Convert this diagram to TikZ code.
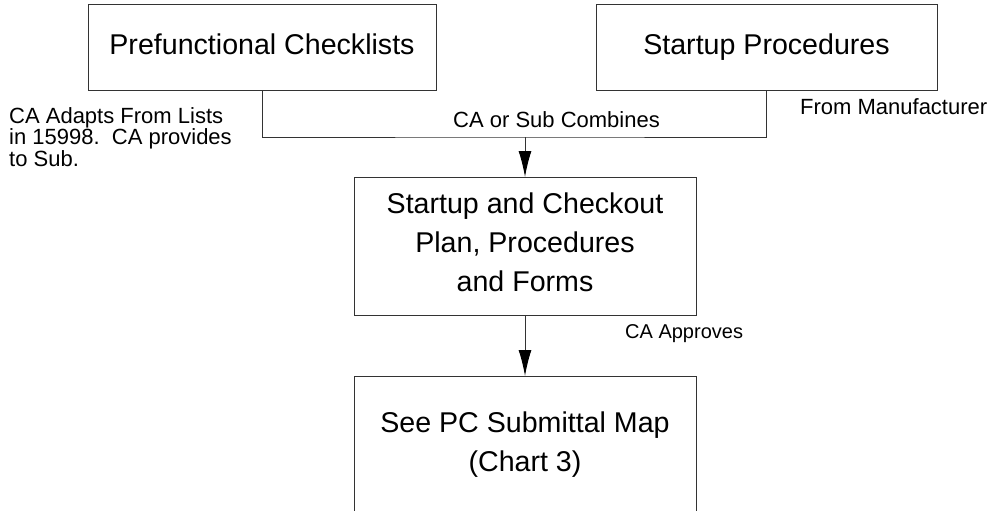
\documentclass[tikz,border=0pt]{standalone}
\usepackage{fontspec}
\setmainfont{Liberation Sans}
\usetikzlibrary{arrows.meta}
\tikzset{box/.style = {draw = black!80, line width = 1pt, inner sep = 0, outer sep = 0, align = center,
    font = \fontsize{28.6}{39}\selectfont, execute at end node = {\rule[-7pt]{0pt}{7pt}}}}
\tikzset{note/.style = {inner sep = 0, font = \fontsize{22}{21.5}\selectfont}}
\tikzset{wire/.style = {draw = black!80, line width = 1pt}}
\tikzset{feed/.style = {wire, -{Latex[length = 26pt, width = 13pt, color = black]}}}

\begin{document}
\begin{tikzpicture}[x = 1pt, y = -1pt]
      \clip (0, 0) rectangle (991, 511);
      \fill [white] (0, 0) rectangle (991, 511);

      \node [box, minimum width = 348pt, minimum height = 86pt] (checklists) at (262, 48) {Prefunctional Checklists};
      \node [box, minimum width = 341pt, minimum height = 86pt] (procedures) at (766.5, 48) {Startup Procedures};
      \node [box, minimum width = 342pt, minimum height = 138pt] (plan) at (525, 246) {Startup and Checkout\\Plan, Procedures\\and Forms};
      \node [box, minimum width = 342pt, minimum height = 138pt] (submittal) at (525, 445) {See PC Submittal Map\\(Chart 3)};

      \node [note, anchor = north west, align = left] (adapts) at (9, 107) {CA Adapts From Lists\\in 15998.\ \ CA provides\\to Sub.};
      \node [note, anchor = base west] (combines) at (453, 128) {CA or Sub Combines};
      \node [note, anchor = base west] (manufacturer) at (800, 114) {From Manufacturer};
      \node [note, anchor = base west, font = \fontsize{20}{22}\selectfont] (approves) at (625, 338) {CA Approves};

      \coordinate (merge) at (525, 137);
      \draw [wire] (checklists.south) |- (merge) -| (procedures.south);
      \draw [feed] (merge) -- (plan.north);
      \draw [feed] (plan.south) -- (submittal.north);
    \end{tikzpicture}
\end{document}
